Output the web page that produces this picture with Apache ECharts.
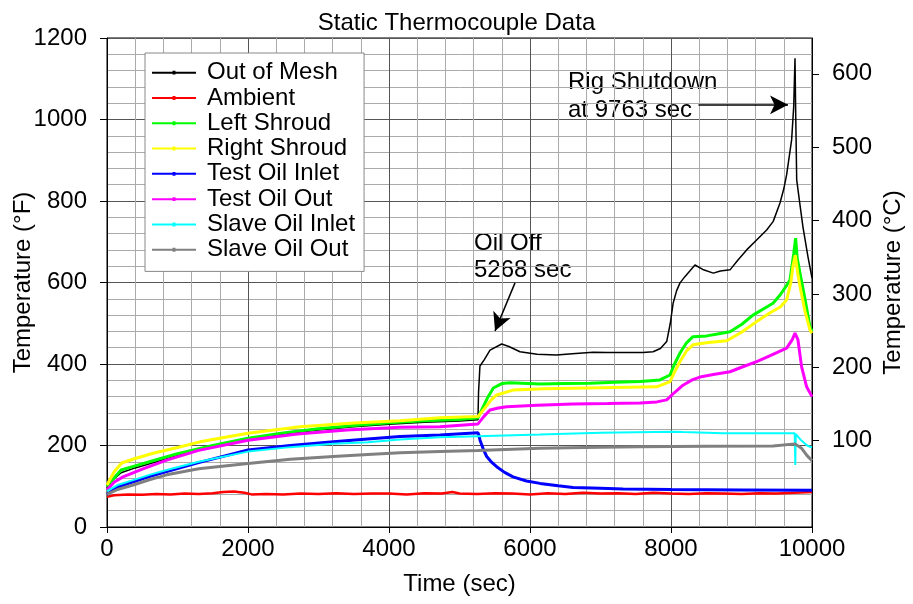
<!DOCTYPE html>
<html>
<head>
<meta charset="utf-8">
<script src="https://cdn.jsdelivr.net/npm/echarts@6/dist/echarts.min.js"></script>
<style>
  html, body { margin: 0; padding: 0; background: #fff; }
  #chart { width: 913px; height: 604px; }
</style>
</head>
<body>
<div id="chart"></div>
<script>
// [time (sec), temperature (°F)]
const outOfMesh = [[0,95],[100,118],[200,133],[400,145],[700,160],[1000,175],[1500,197],[2000,215],[2500,228],[3000,238],[3500,246],[4000,252],[4500,257],[5000,260],[5262,263],[5270,330],[5290,395],[5350,410],[5433,434],[5598,449],[5700,443],[5858,430],[6100,424],[6378,422],[6600,425],[6894,429],[7100,428],[7371,428],[7600,428],[7745,430],[7850,438],[7939,455],[7990,500],[8030,549],[8080,580],[8128,599],[8200,615],[8340,643],[8450,632],[8600,623],[8700,628],[8837,631],[8950,655],[9073,680],[9200,702],[9357,729],[9450,750],[9546,795],[9600,830],[9640,864],[9711,950],[9740,1030],[9759,1150],[9770,1000],[9783,852],[9830,790],[9872,736],[9943,663],[10000,611]]
const ambient = [[0,74],[100,78],[300,80],[500,79],[700,81],[900,80],[1100,82],[1300,81],[1500,83],[1650,86],[1800,87],[1950,84],[2050,80],[2250,81],[2500,80],[2750,82],[3000,81],[3250,83],[3500,81],[3750,82],[4000,82],[4250,80],[4500,83],[4750,82],[4900,86],[5000,82],[5250,81],[5500,83],[5750,82],[6000,80],[6250,83],[6500,81],[6750,84],[7000,82],[7250,83],[7500,81],[7750,84],[8000,82],[8250,81],[8500,83],[8750,82],[9000,81],[9250,83],[9500,82],[9750,84],[10000,86]]
const leftShroud = [[0,100],[200,140],[400,150],[700,165],[1000,180],[1500,200],[2000,218],[2500,231],[3000,241],[3500,249],[4000,256],[4500,261],[5000,264],[5262,268],[5300,282],[5400,318],[5480,341],[5600,352],[5716,354],[6142,351],[6500,352],[6851,353],[7200,355],[7560,357],[7844,361],[7986,373],[8050,400],[8128,427],[8220,452],[8312,467],[8506,469],[8700,475],[8837,479],[9000,497],[9163,520],[9357,540],[9447,549],[9550,570],[9640,593],[9688,606],[9740,670],[9768,709],[9790,660],[9830,623],[9900,560],[9972,491],[10000,480]]
const rightShroud = [[0,103],[100,135],[208,157],[400,168],[655,181],[1000,195],[1319,209],[2000,230],[2738,246],[3500,255],[4156,261],[4723,268],[5262,271],[5350,290],[5450,312],[5527,324],[5759,336],[6200,339],[6800,341],[7400,343],[7797,344],[7986,357],[8050,380],[8128,406],[8220,432],[8312,447],[8500,452],[8790,457],[9000,478],[9215,504],[9400,525],[9550,540],[9640,557],[9700,600],[9730,640],[9763,667],[9800,620],[9830,590],[9900,530],[9972,483],[10000,476]]
const testOilInlet = [[0,80],[150,98],[371,111],[600,124],[846,136],[1300,158],[2000,189],[2600,200],[3210,209],[3700,216],[4156,222],[4723,226],[5262,231],[5275,225],[5291,213],[5340,190],[5386,173],[5450,160],[5527,148],[5640,134],[5759,123],[5950,113],[6142,107],[6400,101],[6610,97],[7000,95],[7319,93],[8000,92],[9000,91],[10000,90]]
const testOilOut = [[0,91],[100,110],[227,123],[500,142],[846,164],[1300,188],[2000,213],[2700,228],[3400,238],[4156,245],[4723,246],[5262,253],[5350,272],[5433,287],[5550,292],[5669,295],[6100,299],[6610,302],[7100,303],[7560,304],[7800,307],[7939,312],[8050,330],[8170,348],[8300,361],[8411,368],[8600,374],[8837,381],[9000,392],[9215,406],[9400,420],[9640,439],[9720,460],[9759,476],[9801,459],[9853,393],[9924,344],[10000,320]]
const slaveOilInlet = [[0,88],[150,103],[371,115],[600,128],[846,140],[1300,160],[2000,185],[2600,196],[3210,204],[3700,208],[4156,215],[4723,220],[5262,223],[6142,227],[7000,231],[8028,234],[8170,233],[8738,230],[9200,230],[9755,230],[9763,152],[9770,228],[9850,212],[9930,200],[10000,195]]
const slaveOilOut = [[0,80],[150,92],[371,103],[600,116],[846,128],[1300,143],[2000,156],[2600,166],[3210,173],[3700,178],[4156,182],[4723,185],[5262,188],[6142,193],[7000,196],[7560,197],[8500,198],[9447,199],[9759,204],[9853,193],[9930,175],[10000,163]]

const seriesNames = ['Out of Mesh', 'Ambient', 'Left Shroud', 'Right Shroud', 'Test Oil Inlet', 'Test Oil Out', 'Slave Oil Inlet', 'Slave Oil Out']
const seriesData = [outOfMesh, ambient, leftShroud, rightShroud, testOilInlet, testOilOut, slaveOilInlet, slaveOilOut]
const colors = ['#000000', '#ff0000', '#00ff00', '#ffff00', '#0000ff', '#ff00ff', '#00ffff', '#808080']
const widths = [1.5, 2.5, 3, 3, 3, 3, 2, 3]
const celsiusTicks = [100, 200, 300, 400, 500, 600]

// annotation arrows, [time, °F]
const oilOffArrow = [[5787, 599], [5504, 481]]
const shutdownArrow = [[8390, 1036], [9660, 1036]]

const font = 'Arial, "Liberation Sans", sans-serif'
const fToC = f => (f - 32) * 5 / 9

const chart = echarts.init(document.getElementById('chart'))

const series = seriesNames.map((name, i) => ({
  name,
  type: 'line',
  data: seriesData[i],
  showSymbol: false,
  symbol: 'none',
  color: colors[i],
  lineStyle: { width: widths[i], color: colors[i] },
  yAxisIndex: 0,
  z: 2 + i
}))

series[0].markLine = {
  silent: true,
  animation: false,
  symbol: ['none', 'arrow'],
  symbolSize: [14, 18],
  label: { show: false },
  lineStyle: { color: '#000', width: 1.5, type: 'solid' },
  data: [
    [{ coord: oilOffArrow[0] }, { coord: oilOffArrow[1] }],
    [{ coord: shutdownArrow[0] }, { coord: shutdownArrow[1] }]
  ]
}

const legendIcon = 'path://M0,4 L45,4 L45,6 L0,6 Z M21,3 L24,3 L24,7 L21,7 Z'
const axisText = { fontFamily: font, fontSize: 24, color: '#000' }

chart.setOption({
  animation: false,
  backgroundColor: '#fff',
  title: {
    text: 'Static Thermocouple Data',
    left: 'center',
    top: 6,
    textStyle: { fontFamily: font, fontSize: 24, fontWeight: 'normal', color: '#000' }
  },
  legend: {
    orient: 'vertical',
    left: 145,
    top: 53,
    data: seriesNames.map(n => ({ name: n, icon: legendIcon })),
    itemWidth: 44,
    itemHeight: 10,
    itemGap: 0,
    padding: [7, 9, 9, 7],
    backgroundColor: '#fff',
    borderColor: '#888',
    borderWidth: 1,
    borderRadius: 0,
    textStyle: { fontFamily: font, fontSize: 24, lineHeight: 25.3, color: '#000', padding: [0, 0, 0, 6] }
  },
  grid: {
    left: 107, right: 101, top: 38, bottom: 77,
    outerBoundsMode: 'none',
    containLabel: false,
    show: true, borderColor: '#000', borderWidth: 1
  },
  xAxis: {
    type: 'value',
    min: 0, max: 10000, interval: 2000,
    name: 'Time (sec)',
    nameLocation: 'middle',
    nameGap: 45,
    nameMoveOverlap: false,
    nameTextStyle: axisText,
    axisLine: { lineStyle: { color: '#000', width: 1 } },
    axisTick: { show: true, inside: false, length: 6, lineStyle: { color: '#000' } },
    axisLabel: { ...axisText, margin: 10, formatter: v => String(v) },
    splitLine: { show: true, lineStyle: { color: '#555', width: 1 } },
    minorTick: { show: false, splitNumber: 5 },
    minorSplitLine: { show: true, lineStyle: { color: '#aaaaaa', width: 1 } }
  },
  yAxis: [
    {
      type: 'value',
      min: 0, max: 1200, interval: 200,
      name: 'Temperature (°F)',
      nameLocation: 'middle',
      nameGap: 72,
      nameMoveOverlap: false,
      nameTextStyle: axisText,
      axisLine: { show: true, lineStyle: { color: '#000', width: 1 } },
      axisTick: { show: true, length: 7, lineStyle: { color: '#000' } },
      axisLabel: { ...axisText, margin: 20, formatter: v => String(v) },
      splitLine: { show: true, lineStyle: { color: '#555', width: 1 } },
      minorTick: { show: false, splitNumber: 5 },
      minorSplitLine: { show: true, lineStyle: { color: '#aaaaaa', width: 1 } }
    },
    {
      type: 'value',
      position: 'right',
      min: fToC(0), max: fToC(1200),
      name: 'Temperature (°C)',
      nameLocation: 'middle',
      nameGap: 69,
      nameMoveOverlap: false,
      nameRotate: 90,
      nameTextStyle: axisText,
      axisLine: { show: true, lineStyle: { color: '#000', width: 1 } },
      axisTick: { show: true, length: 7, customValues: celsiusTicks, lineStyle: { color: '#000' } },
      axisLabel: { ...axisText, margin: 20, customValues: celsiusTicks },
      splitLine: { show: false }
    }
  ],
  graphic: [
    { type: 'text', left: 474, top: 231, style: { text: 'Oil Off', font: '24px ' + font, fill: '#000' } },
    { type: 'text', left: 474, top: 258, style: { text: '5268 sec', font: '24px ' + font, fill: '#000' } },
    { type: 'text', left: 568, top: 70, style: { text: 'Rig Shutdown', font: '24px ' + font, fill: '#000' } },
    { type: 'text', left: 568, top: 98, style: { text: 'at 9763 sec', font: '24px ' + font, fill: '#000' } }
  ],
  series
})
</script>
</body>
</html>
